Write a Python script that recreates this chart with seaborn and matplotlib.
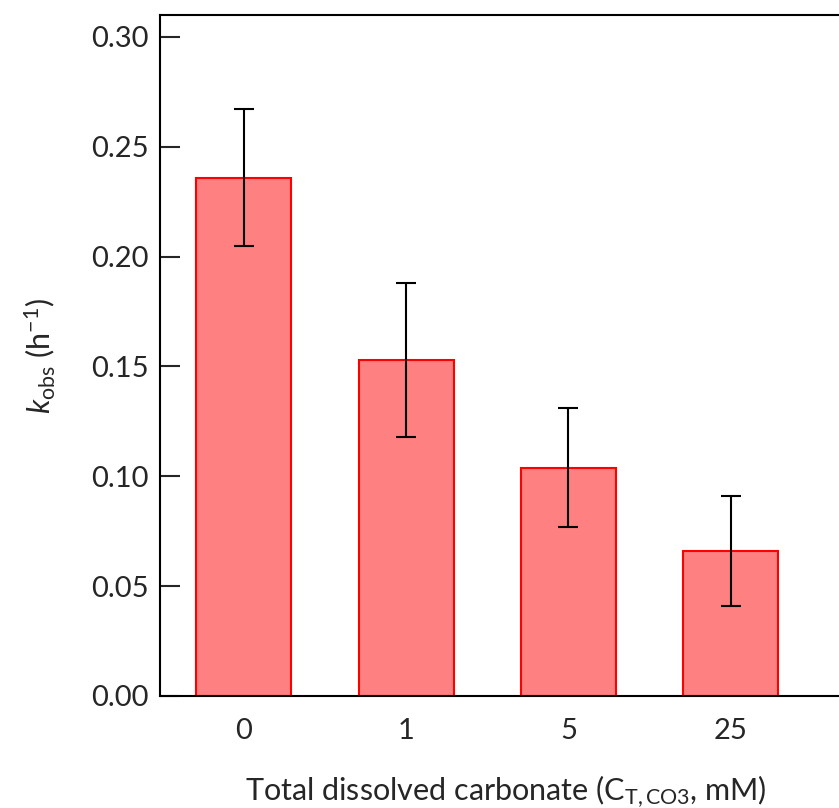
import matplotlib
matplotlib.use("Agg")
import matplotlib.pyplot as plt
import seaborn as sns
import pandas as pd

categories = ["0", "1", "5", "25"]
kobs = [0.236, 0.153, 0.104, 0.066]
kobs_err = [0.031, 0.035, 0.027, 0.025]

sns.set_style("white")
plt.rcParams["font.family"] = ["Lato", "DejaVu Sans"]
plt.rcParams["mathtext.fontset"] = "custom"
plt.rcParams["mathtext.rm"] = "Lato"
plt.rcParams["mathtext.it"] = "Lato:italic"

df = pd.DataFrame({"carb": categories, "k": kobs})

fig = plt.figure(figsize=(8.39, 8.08), dpi=100)
W, H = 839, 808
left, right, top, bottom = 160, 852, 15, 696
ax = fig.add_axes([left / W, 1 - bottom / H, (right - left) / W, (bottom - top) / H])

sns.barplot(data=df, x="carb", y="k", ax=ax, color="#FF8080", saturation=1,
            edgecolor="#FF0000", linewidth=1.5, width=0.585, errorbar=None)
ax.errorbar(range(len(categories)), kobs, yerr=kobs_err, fmt="none",
            ecolor="black", elinewidth=1.5, capsize=7, capthick=1.5)

ax.set_xlim(-0.517, 3.747)
ax.set_ylim(0, 0.31)
ax.set_yticks([0, 0.05, 0.10, 0.15, 0.20, 0.25, 0.30])
ax.set_yticklabels(["0.00", "0.05", "0.10", "0.15", "0.20", "0.25", "0.30"])
ax.tick_params(axis="y", direction="in", length=14.5, width=1.5, pad=8, labelsize=21, left=True)
ax.tick_params(axis="x", length=0, pad=16, labelsize=21)

for s in ["left", "top", "bottom"]:
    ax.spines[s].set_visible(True)
    ax.spines[s].set_color("black")
    ax.spines[s].set_linewidth(1.5)
ax.spines["right"].set_visible(False)

ax.set_xlabel(r"Total dissolved carbonate (C$_{\mathrm{T,CO3}}$, mM)", fontsize=22, labelpad=21)
ax.set_ylabel(r"$k_{\mathrm{obs}}$ (h$^{-1}$)", fontsize=22, labelpad=24)

fig.savefig("out.png", dpi=100)
